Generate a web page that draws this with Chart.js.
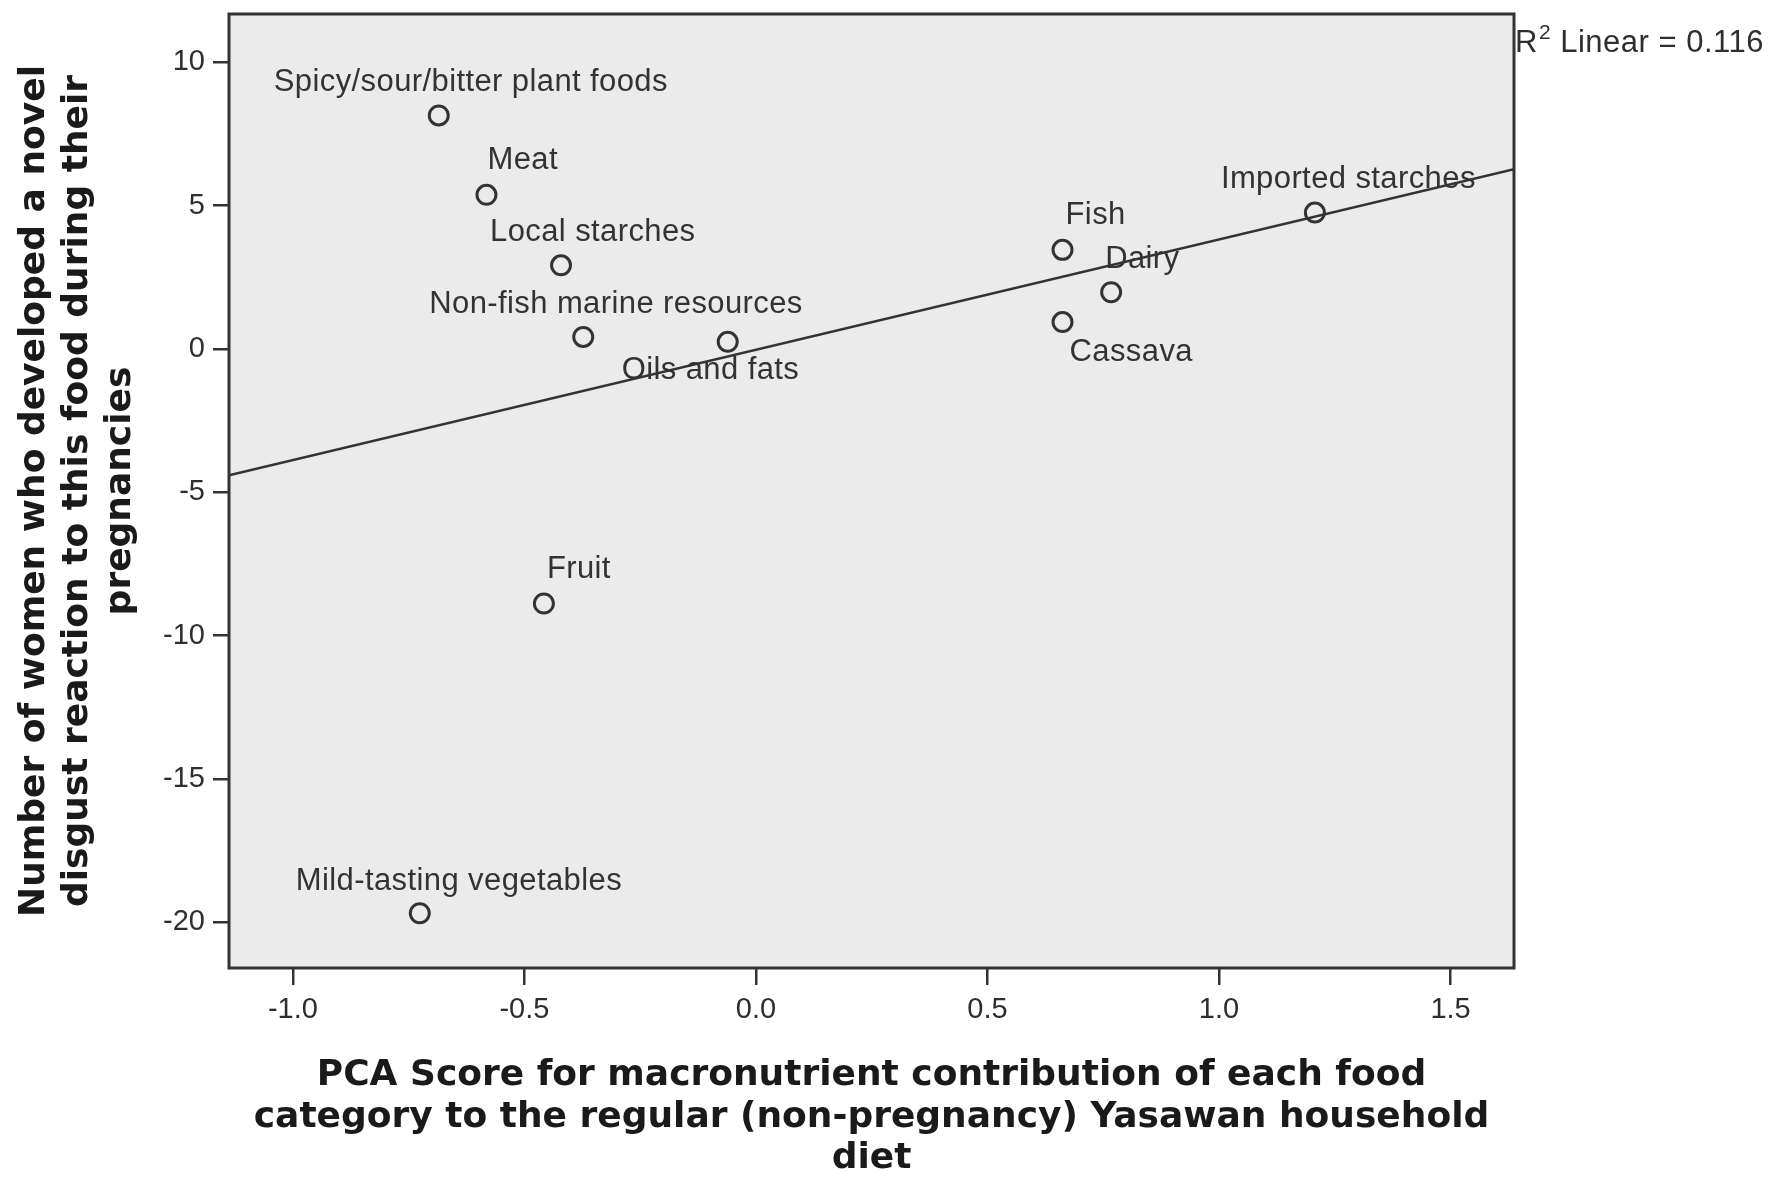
<!DOCTYPE html>
<html>
<head>
<meta charset="utf-8">
<title>Disgust reactions vs. PCA score</title>
<script src="https://cdn.jsdelivr.net/npm/chart.js@4/dist/chart.umd.min.js"></script>
<style>
  html, body { margin: 0; padding: 0; background: #ffffff; }
  #wrap { width: 1770px; height: 1177px; }
</style>
</head>
<body>
<div id="wrap"><canvas id="chart" width="1770" height="1177"></canvas></div>
<script>
// Food categories and their scores
const categories = [
  'Spicy/sour/bitter plant foods', 'Meat', 'Local starches', 'Non-fish marine resources',
  'Oils and fats', 'Fruit', 'Mild-tasting vegetables', 'Fish', 'Dairy', 'Cassava', 'Imported starches'
];
const pcaScores = [-0.685, -0.582, -0.421, -0.373, -0.061, -0.458, -0.726, 0.662, 0.767, 0.662, 1.207];
const disgustCounts = [8.15, 5.38, 2.92, 0.42, 0.25, -8.88, -19.69, 3.46, 1.98, 0.94, 4.76];

// Axis ticks
const xTickValues = [-1.0, -0.5, 0.0, 0.5, 1.0, 1.5];
const yTickValues = [-20, -15, -10, -5, 0, 5, 10];
const xRange = [-1.138, 1.637];
const yRange = [-21.6, 11.69];

// Where each category label sits relative to its point (left edge dx, vertical centre dy), in px
const labelOffsets = [
  [-165, -33], [1, -34], [-71, -33], [-154, -33], [-106, 29], [3, -34],
  [-124, -32], [3, -34], [-6, -33], [7, 30], [-94, -33]
];

// Ordinary least squares fit of disgust counts on PCA score
function linearFit(xs, ys) {
  const n = xs.length;
  const mx = xs.reduce((a, b) => a + b, 0) / n;
  const my = ys.reduce((a, b) => a + b, 0) / n;
  let sxx = 0, sxy = 0, syy = 0;
  for (let i = 0; i < n; i++) {
    sxx += (xs[i] - mx) ** 2;
    sxy += (xs[i] - mx) * (ys[i] - my);
    syy += (ys[i] - my) ** 2;
  }
  const slope = sxy / sxx;
  return { slope, intercept: my - slope * mx, r2: (sxy * sxy) / (sxx * syy) };
}
const fit = linearFit(pcaScores, disgustCounts);
const fitLine = xRange.map(x => ({ x, y: fit.intercept + fit.slope * x }));

const INK = '#2e2e2e';
const SANS = '"Liberation Sans", Arial, sans-serif';
const TICK_FONT = { family: SANS, size: 29 };
const TITLE_FAMILY = '"DejaVu Sans", Verdana, sans-serif';

const plotFrame = {
  id: 'plotFrame',
  beforeDraw(chart) {
    const { ctx, chartArea: a } = chart;
    ctx.save();
    ctx.fillStyle = '#ebebeb';
    ctx.fillRect(a.left, a.top, a.right - a.left, a.bottom - a.top);
    ctx.restore();
  },
  afterDraw(chart) {
    const { ctx, chartArea: a } = chart;
    ctx.save();
    ctx.strokeStyle = '#333333';
    ctx.lineWidth = 3;
    ctx.strokeRect(a.left, a.top, a.right - a.left, a.bottom - a.top);
    // fit statistic next to the frame
    const baseY = a.top + 38;
    let x = a.right + 1;
    ctx.fillStyle = INK;
    ctx.textBaseline = 'alphabetic';
    ctx.textAlign = 'left';
    ctx.letterSpacing = '0.5px';
    ctx.font = '31px ' + SANS;
    ctx.fillText('R', x, baseY);
    x += ctx.measureText('R').width + 1;
    ctx.font = '21px ' + SANS;
    ctx.fillText('2', x, baseY - 13);
    x += ctx.measureText('2').width;
    ctx.font = '31px ' + SANS;
    ctx.fillText(' Linear = ' + fit.r2.toFixed(3), x, baseY);
    ctx.restore();
  }
};

const pointLabels = {
  id: 'pointLabels',
  afterDatasetsDraw(chart) {
    const { ctx, scales } = chart;
    ctx.save();
    ctx.font = '31px ' + SANS;
    ctx.letterSpacing = '0.4px';
    ctx.fillStyle = '#333333';
    ctx.textAlign = 'left';
    ctx.textBaseline = 'middle';
    categories.forEach((name, i) => {
      const px = scales.x.getPixelForValue(pcaScores[i]);
      const py = scales.y.getPixelForValue(disgustCounts[i]);
      ctx.fillText(name, px + labelOffsets[i][0], py + labelOffsets[i][1]);
    });
    ctx.restore();
  }
};

new Chart(document.getElementById('chart'), {
  type: 'scatter',
  data: {
    datasets: [
      {
        label: 'Food categories',
        data: pcaScores.map((x, i) => ({ x, y: disgustCounts[i] })),
        pointStyle: 'circle',
        pointRadius: 9.5,
        pointBorderWidth: 3,
        pointBorderColor: '#333333',
        pointBackgroundColor: 'rgba(0,0,0,0)',
        order: 1
      },
      {
        type: 'line',
        label: 'Linear fit',
        data: fitLine,
        borderColor: '#333333',
        borderWidth: 2.6,
        pointRadius: 0,
        fill: false,
        order: 2
      }
    ]
  },
  options: {
    responsive: false,
    animation: false,
    devicePixelRatio: 1,
    layout: { padding: { top: 14, right: 256, left: 0, bottom: 0 } },
    plugins: { legend: { display: false }, tooltip: { enabled: false } },
    scales: {
      x: {
        type: 'linear',
        min: xRange[0],
        max: xRange[1],
        afterBuildTicks(scale) { scale.ticks = xTickValues.map(v => ({ value: v })); },
        afterFit(scale) { scale.height = 209; scale.paddingLeft = 0; scale.paddingRight = 0; },
        border: { display: false },
        grid: { drawOnChartArea: false, drawTicks: true, tickLength: 17, color: '#333333', lineWidth: 2.5 },
        ticks: {
          font: TICK_FONT, color: INK, padding: 8, maxRotation: 0,
          callback: v => Number(v).toFixed(1)
        },
        title: {
          display: true,
          text: [
            'PCA Score for macronutrient contribution of each food',
            'category to the regular (non-pregnancy) Yasawan household',
            'diet'
          ],
          color: '#1a1a1a',
          font: { family: TITLE_FAMILY, size: 36, weight: 'bold', lineHeight: 1.15 },
          padding: { top: 0, bottom: -2.5 }
        }
      },
      y: {
        type: 'linear',
        min: yRange[0],
        max: yRange[1],
        afterBuildTicks(scale) { scale.ticks = yTickValues.map(v => ({ value: v })); },
        afterFit(scale) { scale.width = 229; scale.paddingTop = 0; scale.paddingBottom = 0; },
        border: { display: false },
        grid: { drawOnChartArea: false, drawTicks: true, tickLength: 16, color: '#333333', lineWidth: 2.5 },
        ticks: { font: TICK_FONT, color: INK, padding: 8, callback: v => String(v) },
        title: {
          display: true,
          text: [
            'Number of women who developed a novel',
            'disgust reaction to this food during their',
            'pregnancies'
          ],
          color: '#1a1a1a',
          font: { family: TITLE_FAMILY, size: 36, weight: 'bold', lineHeight: 1.2 },
          padding: { top: 13, bottom: 0 }
        }
      }
    }
  },
  plugins: [plotFrame, pointLabels]
});
</script>
</body>
</html>
